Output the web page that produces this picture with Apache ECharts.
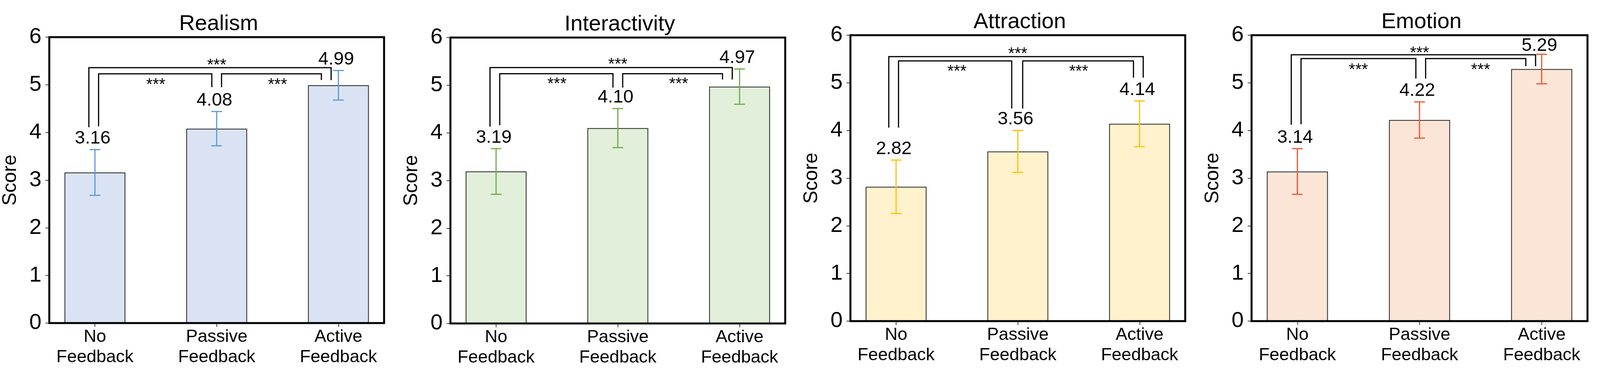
<!DOCTYPE html>
<html>
<head>
<meta charset="utf-8">
<script src="https://cdn.jsdelivr.net/npm/echarts@6/dist/echarts.min.js"></script>
<style>
html,body{margin:0;padding:0;background:#fff;overflow:hidden;}
#chart{width:100vw;height:946px;}
</style>
</head>
<body>
<div id="chart"></div>
<script>
// ---------- data ----------
const categories = ['No\nFeedback', 'Passive\nFeedback', 'Active\nFeedback'];
const panelTitles = ['Realism', 'Interactivity', 'Attraction', 'Emotion'];
const yTickValues = [0, 1, 2, 3, 4, 5, 6];

const realismMeans = [3.16, 4.08, 4.99];
const realismErrors = [0.48, 0.36, 0.31];
const interactivityMeans = [3.19, 4.10, 4.97];
const interactivityErrors = [0.48, 0.41, 0.37];
const attractionMeans = [2.82, 3.56, 4.14];
const attractionErrors = [0.56, 0.44, 0.48];
const emotionMeans = [3.14, 4.22, 5.29];
const emotionErrors = [0.48, 0.38, 0.31];

const significanceMark = '***';
// significance comparisons: [groupA, groupB]
const comparisons = [[0, 2], [0, 1], [1, 2]];

// ---------- annotation layout (bracket geometry, in data units) ----------
// per panel, per comparison: [xLeftLeg, xRightLeg, yLine, yLeftEnd, yRightEnd, yStar]
const bracketLayout = [
  [[-0.05, 1.94, 5.36, 4.11, 5.10, 5.48], [0.03, 0.96, 5.23, 4.13, 4.95, 5.07], [1.04, 1.86, 5.23, 4.95, 5.10, 5.07]],
  [[-0.05, 1.94, 5.37, 4.13, 5.12, 5.50], [0.03, 0.96, 5.24, 4.16, 4.95, 5.09], [1.04, 1.86, 5.24, 4.95, 5.12, 5.09]],
  [[-0.06, 2.03, 5.55, 4.06, 5.11, 5.68], [0.02, 0.95, 5.46, 4.06, 4.46, 5.31], [1.04, 1.95, 5.46, 4.46, 5.11, 5.31]],
  [[-0.05, 1.95, 5.59, 4.12, 5.35, 5.69], [0.03, 0.97, 5.51, 4.13, 5.09, 5.34], [1.05, 1.87, 5.51, 5.09, 5.35, 5.34]]
];

// ---------- styles / layout ----------
const FONT = '"Liberation Sans", Arial, Helvetica, sans-serif';
const fillColors = ['#DAE3F3', '#E2EFDA', '#FFF2CC', '#FBE5D6'];
const errColors = ['#5B9BD5', '#70AD47', '#FFC000', '#EE5530'];
const REF_W = 4220;
const W = window.innerWidth || REF_W;
const sx = W / REF_W;
const gridBoxes = [
  {left: 130, top: 95, width: 883},
  {left: 1188, top: 96, width: 883},
  {left: 2243, top: 90, width: 883},
  {left: 3301, top: 90, width: 886}
];
const GRID_H = 731;

const meansList = [realismMeans, interactivityMeans, attractionMeans, emotionMeans];
const errorsList = [realismErrors, interactivityErrors, attractionErrors, emotionErrors];

const option = {
  backgroundColor: '#ffffff',
  animation: false,
  title: [], grid: [], xAxis: [], yAxis: [], series: []
};

panelTitles.forEach((t, k) => {
  const g = gridBoxes[k];
  const gl = g.left * sx, gw = g.width * sx;
  option.title.push({
    text: t, left: gl + gw / 2, top: g.top - 66, textAlign: 'center',
    textStyle: {fontFamily: FONT, fontSize: 56, fontWeight: 'normal', color: '#000'}
  });
  option.grid.push({
    left: gl, top: g.top, width: gw, height: GRID_H, outerBoundsMode: 'none',
    show: true, borderColor: '#000', borderWidth: 5, backgroundColor: 'transparent', z: 5
  });
  option.xAxis.push({
    type: 'value', gridIndex: k, min: -0.375, max: 2.375,
    axisLine: {show: false, onZero: false},
    splitLine: {show: false},
    axisTick: {show: true, customValues: [0, 1, 2], length: 10, lineStyle: {color: '#444', width: 2}},
    axisLabel: {
      show: true, customValues: [0, 1, 2], margin: 10,
      formatter: v => categories[Math.round(v)],
      fontFamily: FONT, fontSize: 45, lineHeight: 52, color: '#000'
    }
  });
  option.yAxis.push({
    type: 'value', gridIndex: k, min: 0, max: 6, interval: 1,
    name: 'Score', nameLocation: 'middle', nameGap: 74, nameRotate: 90,
    nameTextStyle: {fontFamily: FONT, fontSize: 50, color: '#000'},
    axisLine: {show: false, onZero: false},
    splitLine: {show: false},
    axisTick: {show: true, length: 10, lineStyle: {color: '#444', width: 2}},
    axisLabel: {
      margin: 20, fontFamily: FONT, fontSize: 56, color: '#000',
      formatter: v => (yTickValues.indexOf(v) >= 0 ? String(v) : '')
    }
  });

  const means = meansList[k], errs = errorsList[k];
  // bars
  option.series.push({
    type: 'bar', xAxisIndex: k, yAxisIndex: k, barWidth: '50%', z: 2,
    data: means.map((m, i) => [i, m]),
    itemStyle: {color: fillColors[k], borderColor: '#222', borderWidth: 2}
  });
  // error bars + value labels
  option.series.push({
    type: 'custom', xAxisIndex: k, yAxisIndex: k, z: 3,
    data: means.map((m, i) => [i, m - errs[i], m + errs[i], m]),
    renderItem: (params, api) => {
      const x = api.value(0), lo = api.value(1), hi = api.value(2), m = api.value(3);
      const pLo = api.coord([x, lo]), pHi = api.coord([x, hi]);
      const half = api.size([0.044, 0])[0];
      const st = {stroke: errColors[k], lineWidth: 3};
      const labelY = Math.min(hi + 0.12, 5.67);
      const pL = api.coord([x, labelY]);
      return {
        type: 'group', children: [
          {type: 'line', shape: {x1: pLo[0], y1: pLo[1], x2: pHi[0], y2: pHi[1]}, style: st},
          {type: 'line', shape: {x1: pLo[0] - half, y1: pLo[1], x2: pLo[0] + half, y2: pLo[1]}, style: st},
          {type: 'line', shape: {x1: pHi[0] - half, y1: pHi[1], x2: pHi[0] + half, y2: pHi[1]}, style: st},
          {type: 'text', style: {
            text: m.toFixed(2), x: pL[0] - 6 * sx, y: pL[1] + 10,
            align: 'center', verticalAlign: 'bottom',
            font: '47px ' + FONT, fill: '#000'
          }}
        ]
      };
    }
  });
  // significance brackets
  option.series.push({
    type: 'custom', xAxisIndex: k, yAxisIndex: k, z: 4,
    data: comparisons.map((c, j) => {
      const b = bracketLayout[k][j];
      return [b[0], b[1], b[2], b[3], b[4], (c[0] + c[1]) / 2, b[5]];
    }),
    renderItem: (params, api) => {
      const xl = api.value(0), xr = api.value(1), y = api.value(2), yl = api.value(3), yr = api.value(4);
      const xs = api.value(5), ys = api.value(6);
      const p1 = api.coord([xl, yl]), p2 = api.coord([xl, y]), p3 = api.coord([xr, y]), p4 = api.coord([xr, yr]);
      const ps = api.coord([xs, ys]);
      return {
        type: 'group', children: [
          {type: 'polyline', shape: {points: [p1, p2, p3, p4]}, style: {stroke: '#000', lineWidth: 3, fill: null}},
          {type: 'text', style: {
            text: significanceMark, x: ps[0], y: ps[1] + 9,
            align: 'center', verticalAlign: 'middle',
            font: '42px ' + FONT, fill: '#000'
          }}
        ]
      };
    }
  });
});

const chart = echarts.init(document.getElementById('chart'), null, {renderer: 'canvas'});
chart.setOption(option);
</script>
</body>
</html>
